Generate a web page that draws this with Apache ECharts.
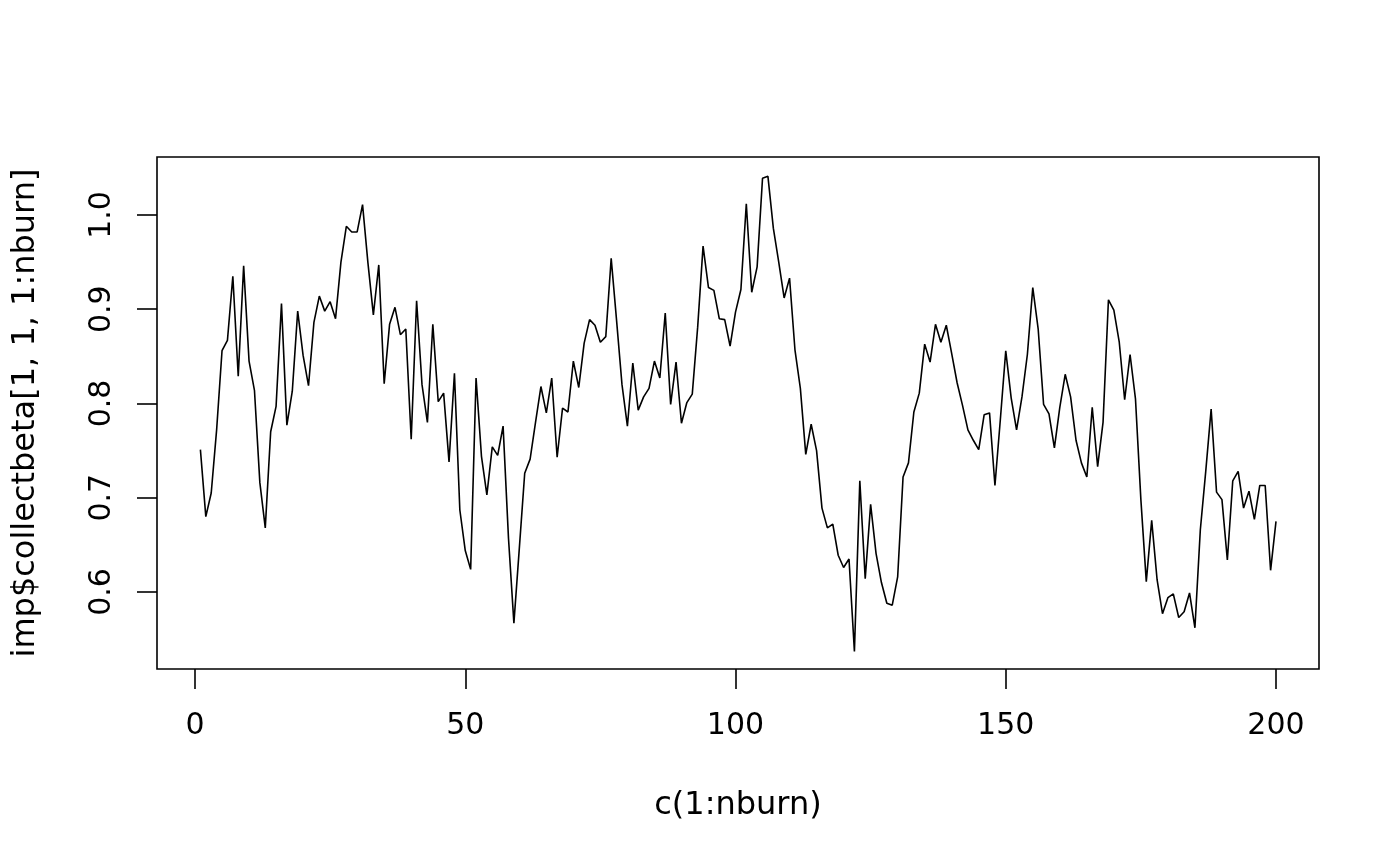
<!DOCTYPE html>
<html>
<head>
<meta charset="utf-8">
<title>imp$collectbeta trace</title>
<script src="https://cdn.jsdelivr.net/npm/echarts@6/dist/echarts.min.js"></script>
<style>
  html, body { margin: 0; padding: 0; background: #fff; }
  #trace_plot { width: 1400px; height: 866px; }
</style>
</head>
<body>
<div id="trace_plot"></div>
<script>
// Trace of imp$collectbeta[1, 1, 1:nburn]
var nburn = 200;
var betaTrace = [
    0.751, 0.680, 0.705, 0.772, 0.856, 0.867, 0.935, 0.829, 0.946, 0.845,
    0.814, 0.716, 0.668, 0.770, 0.797, 0.906, 0.777, 0.813, 0.898, 0.851,
    0.819, 0.886, 0.914, 0.898, 0.908, 0.890, 0.950, 0.988, 0.982, 0.982,
    1.011, 0.949, 0.894, 0.947, 0.821, 0.884, 0.902, 0.873, 0.879, 0.762,
    0.909, 0.820, 0.780, 0.884, 0.802, 0.811, 0.738, 0.832, 0.687, 0.644,
    0.624, 0.827, 0.744, 0.703, 0.754, 0.745, 0.776, 0.657, 0.567, 0.646,
    0.726, 0.741, 0.780, 0.818, 0.790, 0.827, 0.743, 0.795, 0.791, 0.845,
    0.817, 0.864, 0.889, 0.883, 0.865, 0.871, 0.954, 0.888, 0.820, 0.776,
    0.843, 0.793, 0.807, 0.816, 0.845, 0.827, 0.896, 0.799, 0.844, 0.779,
    0.801, 0.810, 0.881, 0.967, 0.923, 0.920, 0.890, 0.889, 0.861, 0.897,
    0.921, 1.012, 0.918, 0.945, 1.039, 1.041, 0.986, 0.950, 0.912, 0.933,
    0.857, 0.816, 0.746, 0.778, 0.750, 0.689, 0.668, 0.672, 0.639, 0.626,
    0.635, 0.537, 0.718, 0.614, 0.693, 0.641, 0.610, 0.588, 0.586, 0.616,
    0.722, 0.737, 0.791, 0.811, 0.863, 0.844, 0.884, 0.865, 0.883, 0.853,
    0.822, 0.798, 0.772, 0.761, 0.751, 0.788, 0.790, 0.713, 0.783, 0.856,
    0.806, 0.772, 0.807, 0.852, 0.923, 0.879, 0.799, 0.789, 0.753, 0.796,
    0.831, 0.807, 0.761, 0.737, 0.722, 0.796, 0.733, 0.780, 0.910, 0.899,
    0.865, 0.804, 0.852, 0.805, 0.698, 0.611, 0.676, 0.613, 0.577, 0.594,
    0.598, 0.573, 0.579, 0.599, 0.562, 0.666, 0.728, 0.794, 0.706, 0.698,
    0.634, 0.718, 0.728, 0.689, 0.707, 0.677, 0.713, 0.713, 0.623, 0.675
];
var xTicks = [0, 50, 100, 150, 200];
var yTicks = [0.6, 0.7, 0.8, 0.9, 1.0];

var xTitle = 'c(1:nburn)';
var yTitle = 'imp$collectbeta[1, 1, 1:nburn]';

var TracePlot = function() {

    var _tracePlot = function() {

        var trace_element = document.getElementById('trace_plot');
        if (!trace_element) return;

        var trace_chart = echarts.init(trace_element, null, { renderer: 'canvas' });

        // (iteration, value) pairs
        var traceData = [];
        for (var i = 0; i < betaTrace.length; i++) {
            traceData.push([i + 1, betaTrace[i]]);
        }

        var fontFamily = '"DejaVu Sans", sans-serif';
        var black = '#000';
        var lw = 1.6;

        // axis that only carries a title (centred on the plot box)
        var titleOnly = function(name, gap) {
            return {
                gridIndex: 0,
                type: 'value',
                min: 0,
                max: 1,
                name: name,
                nameLocation: 'middle',
                nameGap: gap,
                nameTextStyle: { fontSize: 32, color: black, fontFamily: fontFamily },
                axisLine: { show: false, onZero: false },
                axisTick: { show: false },
                axisLabel: { show: false },
                splitLine: { show: false }
            };
        };

        var trace_options = {
            animation: false,
            backgroundColor: '#ffffff',
            textStyle: {
                fontFamily: fontFamily,
                color: black
            },
            grid: [
                // plot box
                {
                    left: 157, top: 157, width: 1162, height: 512,
                    show: true,
                    borderColor: black,
                    borderWidth: lw,
                    backgroundColor: 'transparent'
                },
                // tick range area
                {
                    left: 195, top: 215, width: 1081, height: 377
                }
            ],
            xAxis: [
                titleOnly(xTitle, 121),
                {
                    gridIndex: 1,
                    type: 'value',
                    min: xTicks[0],
                    max: xTicks[xTicks.length - 1],
                    interval: xTicks[1] - xTicks[0],
                    offset: 77,
                    axisLine: { show: false, onZero: false },
                    axisTick: { show: true, length: 20, lineStyle: { color: black, width: lw } },
                    axisLabel: { fontSize: 30, color: black, margin: 42, fontFamily: fontFamily },
                    splitLine: { show: false }
                }
            ],
            yAxis: [
                titleOnly(yTitle, 115),
                {
                    gridIndex: 1,
                    type: 'value',
                    min: yTicks[0],
                    max: yTicks[yTicks.length - 1],
                    interval: 0.1,
                    offset: 38,
                    axisLine: { show: false, onZero: false },
                    axisTick: { show: true, length: 20, lineStyle: { color: black, width: lw } },
                    axisLabel: {
                        fontSize: 30,
                        color: black,
                        rotate: 90,
                        margin: 40,
                        fontFamily: fontFamily,
                        formatter: function (v) { return v.toFixed(1); }
                    },
                    splitLine: { show: false }
                }
            ],
            series: [
                {
                    name: 'collectbeta',
                    type: 'line',
                    xAxisIndex: 1,
                    yAxisIndex: 1,
                    data: traceData,
                    clip: false,
                    symbol: 'none',
                    showSymbol: false,
                    lineStyle: { color: black, width: lw }
                }
            ]
        };

        trace_chart.setOption(trace_options);
    };

    return {
        init: function() {
            _tracePlot();
        }
    };
}();

document.addEventListener('DOMContentLoaded', function() {
    TracePlot.init();
});
</script>
</body>
</html>
